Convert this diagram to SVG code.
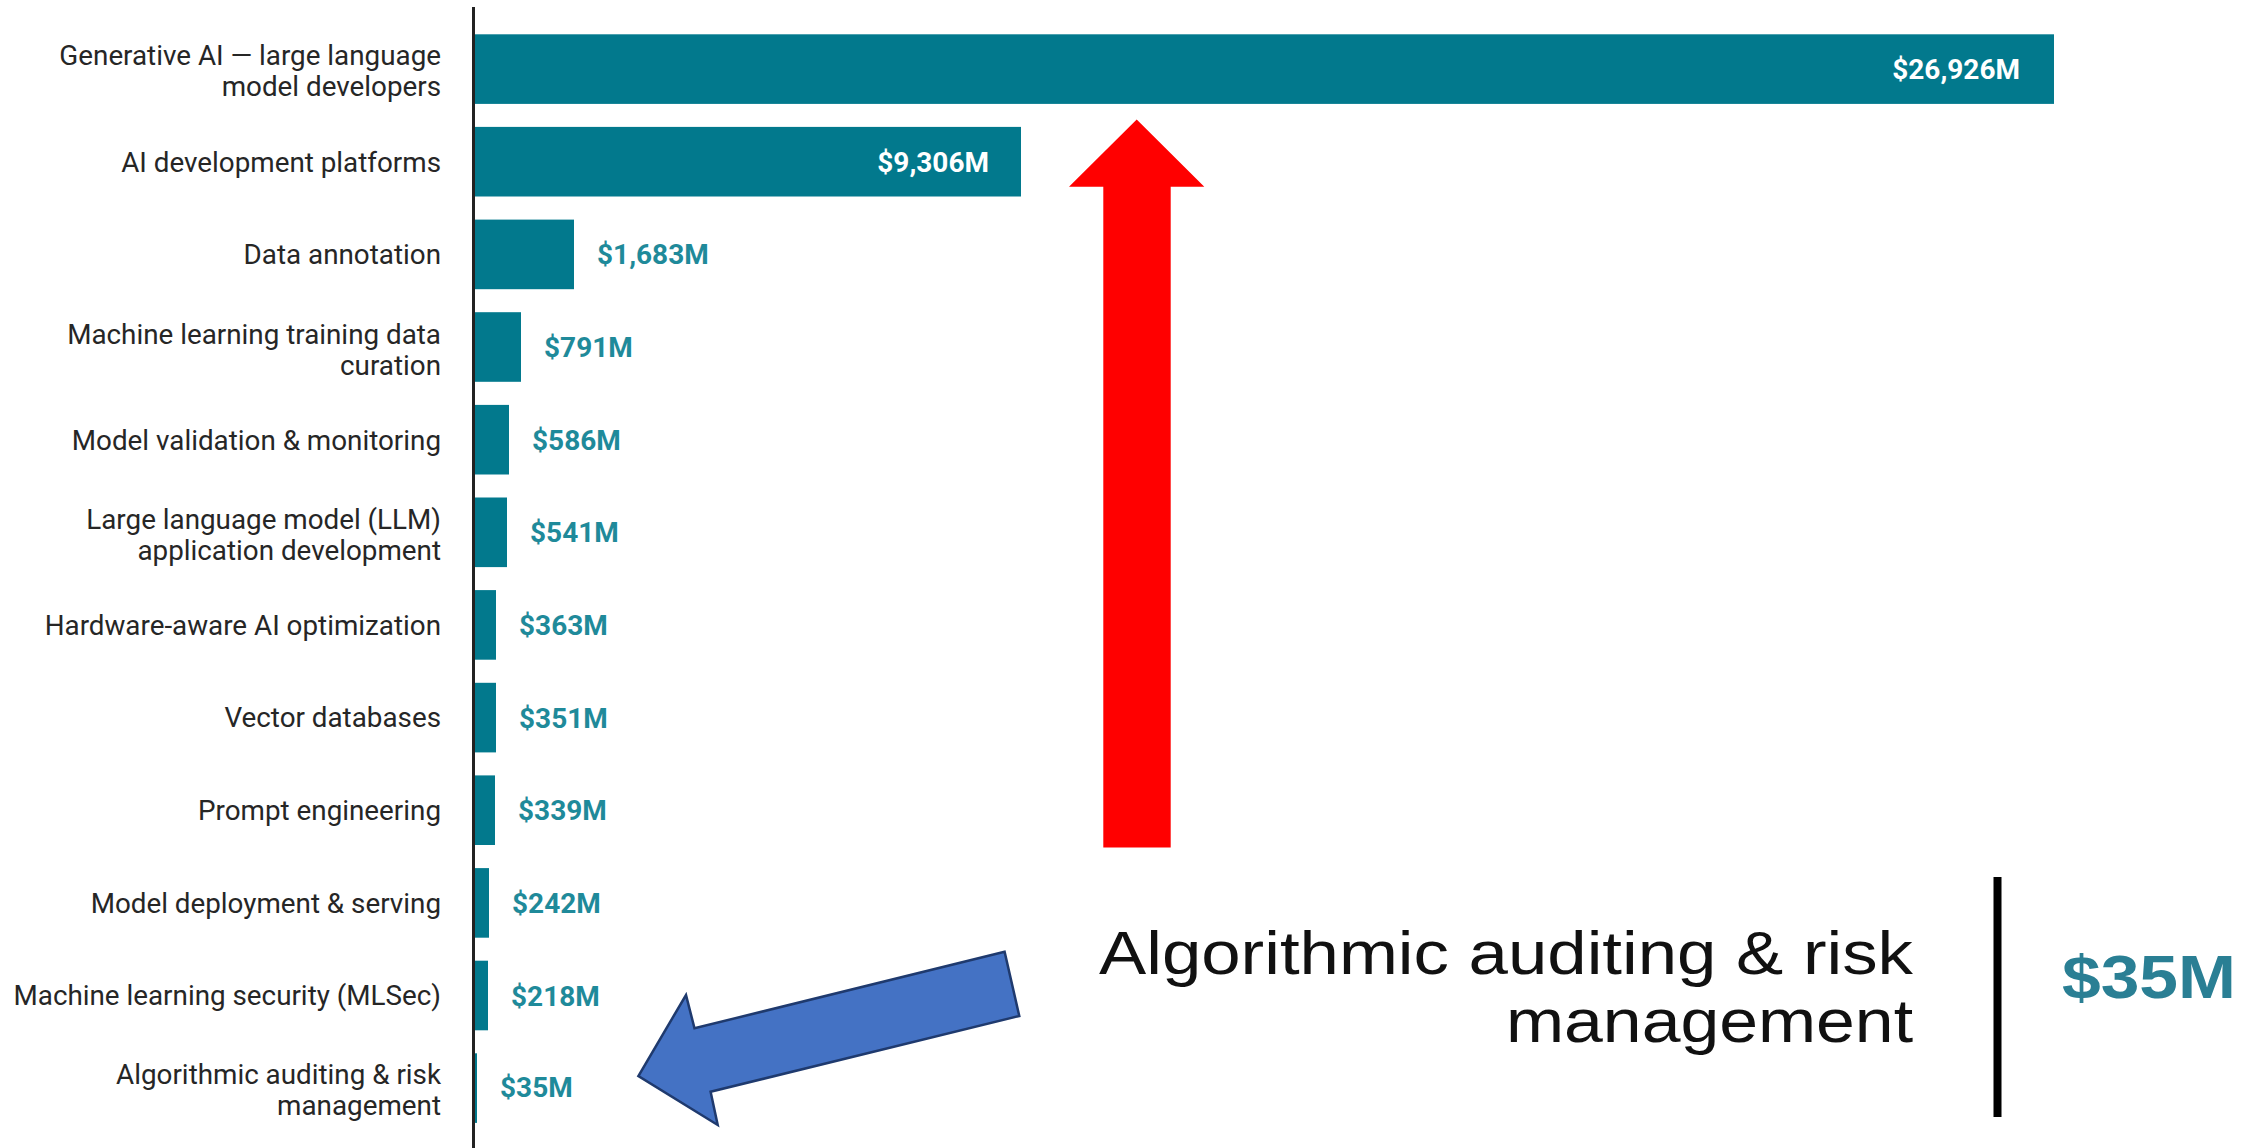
<svg xmlns="http://www.w3.org/2000/svg" width="2261" height="1148" viewBox="0 0 2261 1148">
<style>
.bar{fill:#02798D}
.cat{font-family:Roboto,"Liberation Sans",sans-serif;font-size:27.8px;fill:#262626;text-anchor:end}
.val{font-family:Roboto,"Liberation Sans",sans-serif;font-size:28px;font-weight:700;fill:#1F8A9A}
.valin{font-family:Roboto,"Liberation Sans",sans-serif;font-size:28px;font-weight:700;fill:#FFFFFF;text-anchor:end}
.big{font-family:"Liberation Sans",Arial,sans-serif;font-size:62px;fill:#111111}
.bigval{font-family:"Liberation Sans",Arial,sans-serif;font-size:62px;font-weight:700;fill:#2A7F94}
</style>
<rect width="2261" height="1148" fill="#FFFFFF"/>
<g id="chart">
<g id="row-genai">
<rect class="bar" x="475" y="34.3" width="1579" height="69.6"/>
<text class="cat" x="441" y="65">Generative AI — large language</text>
<text class="cat" x="441" y="96">model developers</text>
<text class="valin" x="2020" y="79">$26,926M</text>
</g>
<g id="row-platforms">
<rect class="bar" x="475" y="126.9" width="546" height="69.6"/>
<text class="cat" x="441" y="171.5">AI development platforms</text>
<text class="valin" x="989" y="171.5">$9,306M</text>
</g>
<g id="row-annotation">
<rect class="bar" x="475" y="219.6" width="99" height="69.6"/>
<text class="cat" x="441" y="264.2">Data annotation</text>
<text class="val" x="597" y="264.4">$1,683M</text>
</g>
<g id="row-curation">
<rect class="bar" x="475" y="312.2" width="46" height="69.6"/>
<text class="cat" x="441" y="343.5">Machine learning training data</text>
<text class="cat" x="441" y="374.5">curation</text>
<text class="val" x="544" y="357">$791M</text>
</g>
<g id="row-validation">
<rect class="bar" x="475" y="404.9" width="34" height="69.6"/>
<text class="cat" x="441" y="449.5">Model validation &amp; monitoring</text>
<text class="val" x="532" y="449.7">$586M</text>
</g>
<g id="row-llmapp">
<rect class="bar" x="475" y="497.5" width="32" height="69.6"/>
<text class="cat" x="441" y="528.5">Large language model (LLM)</text>
<text class="cat" x="441" y="559.5">application development</text>
<text class="val" x="530" y="542.3">$541M</text>
</g>
<g id="row-hardware">
<rect class="bar" x="475" y="590.1" width="21" height="69.6"/>
<text class="cat" x="441" y="634.7">Hardware-aware AI optimization</text>
<text class="val" x="519" y="634.9">$363M</text>
</g>
<g id="row-vector">
<rect class="bar" x="475" y="682.8" width="21" height="69.6"/>
<text class="cat" x="441" y="727.4">Vector databases</text>
<text class="val" x="519" y="727.6">$351M</text>
</g>
<g id="row-prompt">
<rect class="bar" x="475" y="775.4" width="20" height="69.6"/>
<text class="cat" x="441" y="820">Prompt engineering</text>
<text class="val" x="518" y="820.2">$339M</text>
</g>
<g id="row-deployment">
<rect class="bar" x="475" y="868.1" width="14" height="69.6"/>
<text class="cat" x="441" y="912.7">Model deployment &amp; serving</text>
<text class="val" x="512" y="912.9">$242M</text>
</g>
<g id="row-mlsec">
<rect class="bar" x="475" y="960.7" width="13" height="69.6"/>
<text class="cat" x="441" y="1005.3">Machine learning security (MLSec)</text>
<text class="val" x="511" y="1005.5">$218M</text>
</g>
<g id="row-auditing">
<rect class="bar" x="475" y="1053.3" width="2" height="69.6"/>
<text class="cat" x="441" y="1084">Algorithmic auditing &amp; risk</text>
<text class="cat" x="441" y="1115">management</text>
<text class="val" x="500" y="1096.5">$35M</text>
</g>
<line id="axis" x1="473.5" y1="7" x2="473.5" y2="1148" stroke="#222222" stroke-width="3"/>
</g>
<g id="inset">
<text class="big" x="1099" y="974" textLength="814" lengthAdjust="spacingAndGlyphs">Algorithmic auditing &amp; risk</text>
<text class="big" x="1506" y="1041.5" textLength="407" lengthAdjust="spacingAndGlyphs">management</text>
<line x1="1997.5" y1="877" x2="1997.5" y2="1117" stroke="#000000" stroke-width="8"/>
<text class="bigval" x="2062" y="998" textLength="174" lengthAdjust="spacingAndGlyphs">$35M</text>
</g>
<g id="connectors">
<polygon id="red-arrow" points="1136.7,119.4 1204.3,186.7 1170.7,186.7 1170.7,847.4 1103.3,847.4 1103.3,186.7 1069,186.7" fill="#FF0000"/>
<polygon id="blue-arrow" points="1004.6,951.7 694.5,1028.3 686,995 638.4,1076 717.7,1125 710.6,1091.7 1019.3,1016" fill="#4472C4" stroke="#1F3A6E" stroke-width="2.5" stroke-linejoin="miter"/>
</g>
</svg>
